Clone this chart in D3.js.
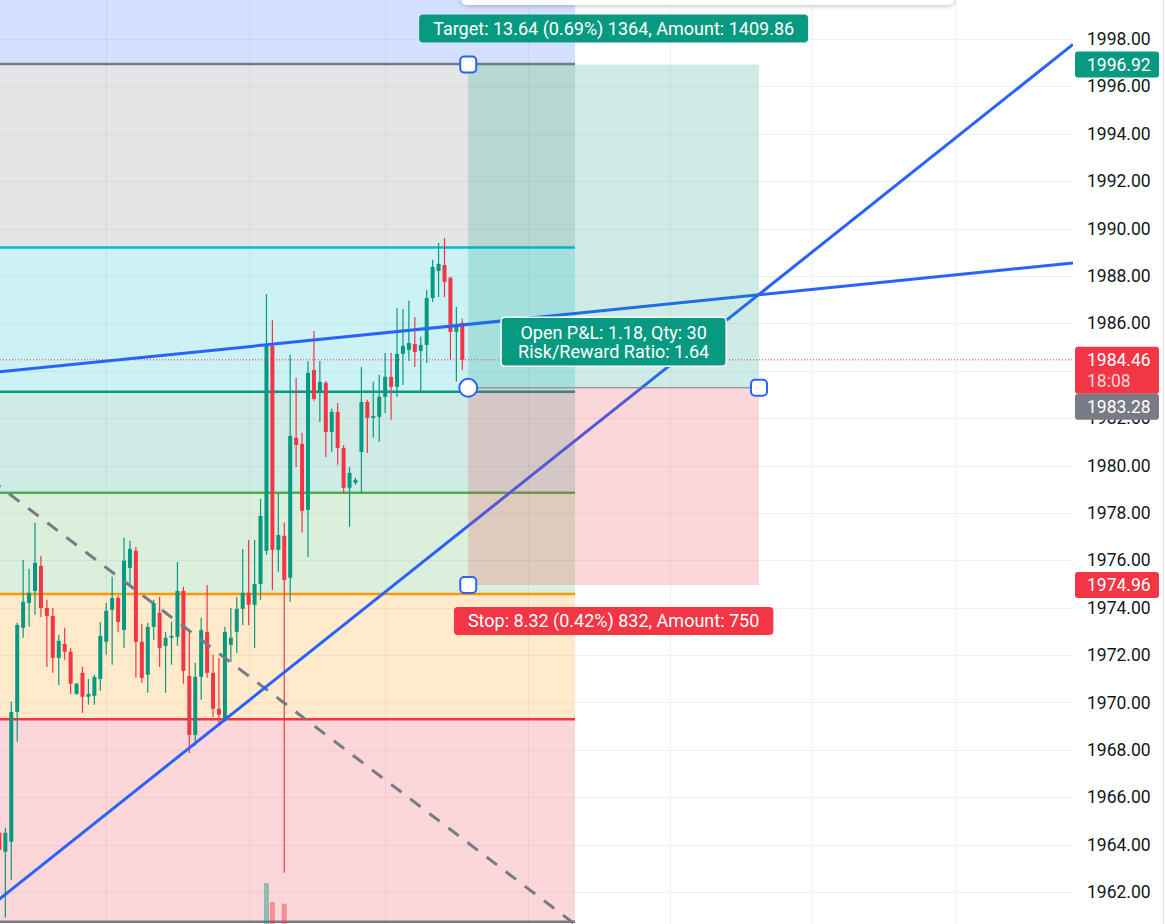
<!DOCTYPE html>
<meta charset="utf-8">
<style>
body { margin: 0; background: #fff; }
svg { display: block; font-family: "Trebuchet MS", Roboto, sans-serif; }
</style>
<svg width="1165" height="924"></svg>
<script src="https://d3js.org/d3.v7.min.js"></script>
<script>

// candles, one per bar (bar 0 is cut by the left edge)
var opens  = [1964.50,1963.70,1964.12,1969.60,1973.15,1974.20,1974.71,1975.76,1973.99,1973.65,
              1971.88,1972.47,1972.14,1970.36,1971.25,1970.24,1970.28,1970.99,1972.56,1973.91,
              1974.41,1973.06,1975.68,1976.40,1972.56,1971.17,1973.19,1973.78,1972.39,1972.73,
              1972.77,1974.71,1971.12,1968.63,1971.08,1972.98,1971.25,1969.73,1969.27,1972.43,
              1972.98,1973.95,1974.63,1974.12,1975.00,1976.40,1985.05,1976.44,1977.03,1975.26,
              1981.17,1980.91,1978.13,1984.03,1983.06,1983.49,1981.42,1982.26,1980.74,1979.06,
              1979.27,1980.57,1982.68,1982.01,1982.05,1982.90,1983.74,1983.32,1984.71,1984.88,
              1985.13,1984.84,1985.09,1987.07,1988.21,1988.46,1987.92,1985.64,1986.02];
var highs  = [1965.34,1964.71,1970.03,1973.36,1976.02,1975.64,1977.58,1976.19,1974.33,1973.99,
              1972.85,1973.15,1972.30,1970.83,1971.50,1970.99,1971.17,1973.40,1974.20,1975.30,
              1974.50,1976.95,1976.82,1976.56,1973.32,1973.36,1974.33,1974.46,1972.98,1973.40,
              1975.93,1974.88,1972.94,1971.67,1973.57,1974.96,1972.01,1971.88,1973.19,1973.99,
              1974.46,1976.48,1976.86,1976.86,1978.59,1987.24,1986.14,1978.84,1977.58,1984.67,
              1983.70,1981.38,1984.41,1985.68,1984.41,1983.57,1982.39,1982.64,1980.87,1979.94,
              1979.48,1984.16,1982.77,1983.53,1983.82,1984.75,1984.75,1986.65,1986.61,1986.95,
              1986.27,1985.43,1987.41,1988.68,1989.39,1989.60,1987.96,1986.69,1986.19];
var lows   = [1961.33,1960.91,1962.52,1968.34,1972.73,1973.19,1973.70,1973.61,1971.50,1971.25,
              1970.74,1971.80,1970.36,1970.32,1969.56,1969.90,1969.90,1970.49,1972.01,1971.59,
              1972.98,1972.30,1974.96,1971.04,1970.83,1970.41,1972.64,1971.50,1970.41,1971.59,
              1972.39,1970.79,1967.87,1968.17,1970.11,1971.04,1969.39,1969.01,1969.18,1971.71,
              1972.09,1973.27,1973.27,1972.30,1974.33,1976.23,1974.75,1975.51,1962.81,1974.25,
              1979.94,1977.16,1976.14,1982.73,1981.84,1980.36,1980.57,1980.03,1978.84,1977.41,
              1979.18,1978.84,1980.53,1981.17,1981.00,1982.22,1981.93,1982.90,1983.40,1984.41,
              1984.16,1983.11,1984.33,1986.90,1987.11,1987.11,1984.46,1983.53,1984.03];
var closes = [1963.78,1964.50,1969.60,1973.27,1974.25,1974.63,1975.89,1973.99,1973.65,1971.88,
              1972.60,1972.14,1970.79,1970.79,1970.24,1970.36,1971.08,1972.81,1973.87,1974.41,
              1973.40,1975.98,1976.48,1972.56,1971.04,1973.19,1974.20,1972.30,1972.73,1972.81,
              1974.71,1971.33,1968.63,1971.08,1973.06,1971.25,1969.73,1969.48,1972.98,1972.73,
              1973.95,1974.63,1974.12,1975.00,1977.87,1985.09,1976.44,1977.07,1975.17,1981.25,
              1980.87,1978.09,1983.91,1982.81,1983.53,1981.42,1982.26,1980.74,1979.06,1979.69,
              1979.39,1982.68,1982.01,1982.09,1982.90,1983.74,1983.32,1984.71,1985.05,1985.17,
              1984.79,1985.09,1987.07,1988.38,1988.51,1987.75,1985.64,1985.93,1984.46];
// volume pane is mostly below the visible area
var volumes = [2.1,2.4,3.6,2.9,2.2,1.8,2.3,1.9,1.7,2.0,
               1.6,1.5,1.8,1.2,1.6,1.3,1.4,1.9,1.7,1.8,
               1.5,2.2,1.6,2.4,1.9,1.7,1.4,1.8,1.5,1.3,
               1.9,2.3,2.6,2.2,1.9,2.1,1.8,1.6,2.4,1.5,
               1.7,1.9,1.8,2.0,2.6,12.0,8.6,3.4,8.3,4.1,
               2.2,2.4,3.0,2.1,1.8,1.7,1.5,1.6,1.4,1.8,
               0.4,2.6,1.5,1.3,1.4,1.6,1.5,2.0,1.6,1.5,
               1.4,1.3,1.9,2.1,1.8,1.9,2.2,1.7,1.5];

var priceTicks = [1962, 1964, 1966, 1968, 1970, 1972, 1974, 1976, 1978,
                  1980, 1982, 1984, 1986, 1988, 1990, 1992, 1994, 1996, 1998];
var gridBars = [18, 42, 65, 89, 113, 137, 161];

// fib retracement
var fibLevels = [0, 0.236, 0.382, 0.5, 0.618, 0.786, 1, 1.618];
var fibColors = ["#787b86", "#f23645", "#ff9800", "#4caf50", "#089981", "#00bcd4", "#787b86", "#2962ff"];
var fibLow = 1960.74, fibHigh = 1996.95, fibStartBar = -20, fibEndBar = 97;

// trend lines: [bar, price] anchors
var trendUp = [[0, 1983.95], [150, 1987.76]];
var trendSteep = [[0, 1961.70], [150, 1991.61]];
var trendDown = [[0, 1979.12], [90, 1961.97]];

// long position
var entryPrice = 1983.28, targetPrice = 1996.92, stopPrice = 1974.96, lastPrice = 1984.46;
var posStartBar = 79, posEndBar = 128;
var targetText = "Target: 13.64 (0.69%) 1364, Amount: 1409.86";
var stopText = "Stop: 8.32 (0.42%) 832, Amount: 750";
var centerText = ["Open P&L: 1.18, Qty: 30", "Risk/Reward Ratio: 1.64"];
var countdown = "18:08";

var svg = d3.select("svg"),
    paneW = 1073,
    height = +svg.attr("height");

var x = d3.scaleLinear().domain([0, 78]).range([-0.6, 462.3]),
    y = d3.scaleLinear().domain([1962, 1998]).range([892, 39]),
    yVol = d3.scaleLinear().domain([0, 12]).range([950, 883]);

var up = "#089981", down = "#f23645";

var defs = svg.append("defs");
defs.append("clipPath").attr("id", "pane")
  .append("rect").attr("width", paneW).attr("height", height);
var sh = defs.append("filter").attr("id", "shadow")
    .attr("x", "-10%").attr("y", "-100%").attr("width", "120%").attr("height", "300%");
sh.append("feDropShadow").attr("dx", 0).attr("dy", 1).attr("stdDeviation", 2.5)
    .attr("flood-color", "#000").attr("flood-opacity", 0.25);

var pane = svg.append("g").attr("clip-path", "url(#pane)");

// grid
pane.append("g").selectAll("line")
  .data(priceTicks)
  .enter().append("line")
    .attr("x1", 0).attr("x2", paneW)
    .attr("y1", function(d) { return Math.round(y(d)) + 0.5; })
    .attr("y2", function(d) { return Math.round(y(d)) + 0.5; })
    .attr("stroke", "#eef0f4");
pane.append("g").selectAll("line")
  .data(gridBars)
  .enter().append("line")
    .attr("x1", function(d) { return Math.round(x(d)) + 0.5; })
    .attr("x2", function(d) { return Math.round(x(d)) + 0.5; })
    .attr("y1", 0).attr("y2", height)
    .attr("stroke", "#eef0f4");

// fib zones and levels
function fibPrice(l) { return fibLow + (fibHigh - fibLow) * l; }
var fx0 = x(fibStartBar), fx1 = x(fibEndBar);
pane.append("g").selectAll("rect")
  .data(fibLevels.slice(1))
  .enter().append("rect")
    .attr("x", fx0)
    .attr("width", fx1 - fx0)
    .attr("y", function(d) { return y(fibPrice(d)); })
    .attr("height", function(d, i) { return y(fibPrice(fibLevels[i])) - y(fibPrice(d)); })
    .attr("fill", function(d, i) { return fibColors[i + 1]; })
    .attr("fill-opacity", 0.2);
pane.append("g").selectAll("line")
  .data(fibLevels)
  .enter().append("line")
    .attr("x1", fx0).attr("x2", fx1)
    .attr("y1", function(d) { return y(fibPrice(d)); })
    .attr("y2", function(d) { return y(fibPrice(d)); })
    .attr("stroke", function(d, i) { return fibColors[i]; })
    .attr("stroke-width", 2.5);

// volume
var bars = d3.range(opens.length);
pane.append("g").selectAll("rect")
  .data(bars)
  .enter().append("rect")
    .attr("x", function(i) { return x(i) - 2.5; })
    .attr("width", 5)
    .attr("y", function(i) { return yVol(volumes[i]); })
    .attr("height", function(i) { return yVol(0) - yVol(volumes[i]); })
    .attr("fill", function(i) { return closes[i] >= opens[i] ? up : down; })
    .attr("fill-opacity", 0.45);

// candles
var candle = pane.append("g").selectAll("g")
  .data(bars)
  .enter().append("g")
    .attr("fill", function(i) { return closes[i] >= opens[i] ? up : down; })
    .attr("stroke", function(i) { return closes[i] >= opens[i] ? up : down; });
candle.append("line")
    .attr("x1", function(i) { return x(i); })
    .attr("x2", function(i) { return x(i); })
    .attr("y1", function(i) { return y(highs[i]); })
    .attr("y2", function(i) { return y(lows[i]); })
    .attr("stroke-width", 1.2);
candle.append("rect")
    .attr("stroke", "none")
    .attr("x", function(i) { return x(i) - 2; })
    .attr("width", 4)
    .attr("y", function(i) { return y(Math.max(opens[i], closes[i])); })
    .attr("height", function(i) { return Math.max(1, Math.abs(y(opens[i]) - y(closes[i]))); });

// current price line
pane.append("line")
    .attr("x1", 0).attr("x2", paneW)
    .attr("y1", y(lastPrice)).attr("y2", y(lastPrice))
    .attr("stroke", down).attr("stroke-dasharray", "1,2");

// trend lines extended over the pane
function ray(a) {
  var s = (a[1][1] - a[0][1]) / (a[1][0] - a[0][0]);
  var b0 = x.invert(-10), b1 = x.invert(paneW);
  return [[x(b0), y(a[0][1] + s * (b0 - a[0][0]))], [x(b1), y(a[0][1] + s * (b1 - a[0][0]))]];
}
var line = d3.line();
pane.append("path").attr("d", line(ray(trendDown)))
    .attr("fill", "none").attr("stroke", "#787b86").attr("stroke-width", 3)
    .attr("stroke-dasharray", "13,11");
pane.append("path").attr("d", line(ray(trendUp)))
    .attr("fill", "none").attr("stroke", "#2962ff").attr("stroke-width", 3);
pane.append("path").attr("d", line(ray(trendSteep)))
    .attr("fill", "none").attr("stroke", "#2962ff").attr("stroke-width", 3);

// long position tool
var px0 = x(posStartBar), px1 = x(posEndBar),
    yEntry = y(entryPrice), yTarget = y(targetPrice), yStop = y(stopPrice);
pane.append("rect")
    .attr("x", px0).attr("width", px1 - px0)
    .attr("y", yTarget).attr("height", yEntry - yTarget)
    .attr("fill", up).attr("fill-opacity", 0.2);
pane.append("rect")
    .attr("x", px0).attr("width", px1 - px0)
    .attr("y", yEntry).attr("height", yStop - yEntry)
    .attr("fill", down).attr("fill-opacity", 0.2);
pane.append("line")
    .attr("x1", px0).attr("x2", px1).attr("y1", yEntry).attr("y2", yEntry)
    .attr("stroke", "#787b86").attr("stroke-width", 1);

function label(cx, cy, lines, fill, border) {
  var g = svg.append("g");
  var t = g.append("text")
      .attr("fill", "#fff").attr("font-size", 18)
      .attr("text-anchor", "middle");
  t.selectAll("tspan")
    .data(lines)
    .enter().append("tspan")
      .attr("x", cx)
      .attr("y", function(d, i) { return cy + (i - (lines.length - 1) / 2) * 19; })
      .attr("dy", "0.35em")
      .text(function(d) { return d; });
  var w = d3.max(t.selectAll("tspan").nodes(), function(n) { return n.getComputedTextLength(); }) + (border ? 34 : 28),
      h = lines.length * 19 + (border ? 11 : 9);
  g.insert("rect", "text")
      .attr("x", cx - w / 2).attr("y", cy - h / 2)
      .attr("width", w).attr("height", h).attr("rx", 4)
      .attr("fill", fill)
      .attr("stroke", border ? "#fff" : "none").attr("stroke-width", 1.5);
}

var cx = (px0 + px1) / 2;
label(cx, yTarget - 36, [targetText], up, false);
label(cx, yStop + 36, [stopText], down, false);
label(cx, yEntry - 46, centerText, up, true);

// handles
function squareHandle(hx, hy) {
  svg.append("rect")
      .attr("x", hx - 8).attr("y", hy - 8).attr("width", 16).attr("height", 16).attr("rx", 4)
      .attr("fill", "#fff").attr("stroke", "#2962ff").attr("stroke-width", 2);
}
squareHandle(px0, yTarget);
squareHandle(px0, yStop);
squareHandle(px1, yEntry);
svg.append("circle")
    .attr("cx", px0).attr("cy", yEntry).attr("r", 9)
    .attr("fill", "#fff").attr("stroke", "#2962ff").attr("stroke-width", 2);

// top floating panel
svg.append("rect")
    .attr("x", 461).attr("y", -20).attr("width", 493).attr("height", 25).attr("rx", 6)
    .attr("fill", "#fff").attr("filter", "url(#shadow)");

// price scale; the label right under the last-price box is hidden by it
var fmt = d3.format(".2f");
var lastTop = y(lastPrice) - 13;
var axis = svg.append("g")
    .attr("transform", "translate(" + paneW + ",0)")
    .call(d3.axisRight(y)
      .tickValues(priceTicks.filter(function(d) { return Math.abs(y(d) - (lastTop + 23)) > 18; }))
      .tickFormat(fmt).tickSize(0).tickPadding(14));
axis.select(".domain").remove();
axis.attr("font-family", null);
axis.selectAll("text").attr("font-size", 17.5).attr("fill", "#131722");

svg.append("line")
    .attr("x1", 1163.5).attr("x2", 1163.5).attr("y1", 0).attr("y2", height)
    .attr("stroke", "#e0e3eb");

function priceBox(top, h, fill, texts, colors) {
  svg.append("rect")
      .attr("x", paneW + 2).attr("y", top).attr("width", 84).attr("height", h).attr("rx", 3)
      .attr("fill", fill);
  texts.forEach(function(s, i) {
    svg.append("text")
        .attr("x", paneW + 14).attr("y", top + 13 + i * 21).attr("dy", "0.35em")
        .attr("font-size", 17.5).attr("fill", colors[i])
        .text(s);
  });
}
priceBox(y(targetPrice) - 13, 26, up, [fmt(targetPrice)], ["#fff"]);
priceBox(lastTop, 47, down, [fmt(lastPrice), countdown], ["#fff", "#ffd3d7"]);
priceBox(Math.max(y(entryPrice) - 13, lastTop + 47), 26, "#787b86", [fmt(entryPrice)], ["#fff"]);
priceBox(y(stopPrice) - 13, 26, down, [fmt(stopPrice)], ["#fff"]);

</script>
